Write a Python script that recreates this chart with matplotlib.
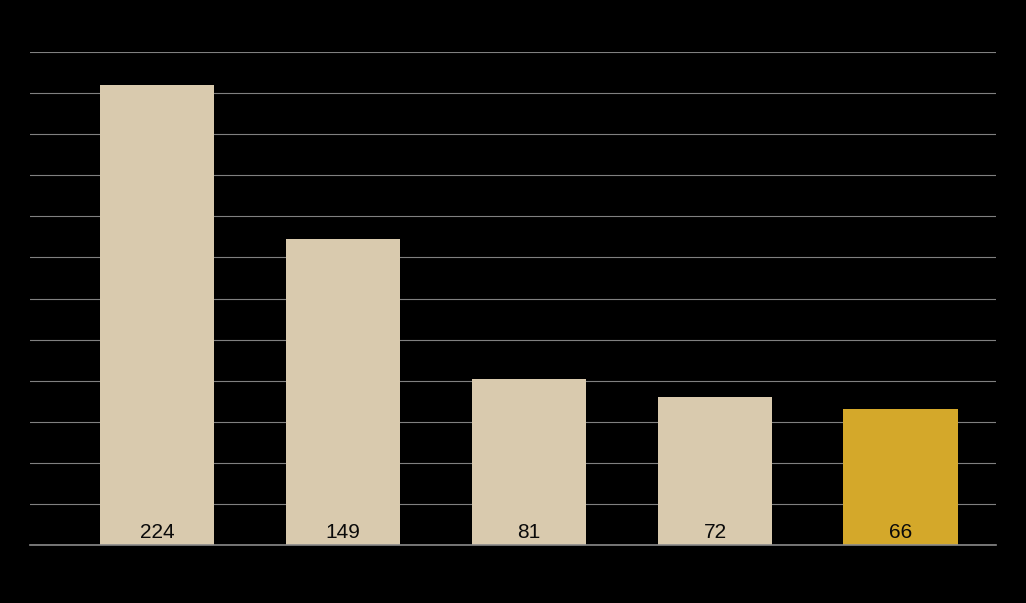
import matplotlib.pyplot as plt

plt.rcParams['font.family'] = ['Liberation Sans', 'DejaVu Sans']

categories = ['A', 'B', 'C', 'D', 'E']
values = [224, 149, 81, 72, 66]
colors = ['#D9CAAE', '#D9CAAE', '#D9CAAE', '#D9CAAE', '#D4A82A']

fig = plt.figure(figsize=(10.26, 6.03), dpi=100, facecolor='black')
ax = fig.add_axes([30 / 1026, 1 - 545 / 603, 966 / 1026, 493 / 603])
ax.set_facecolor('black')

x = range(len(categories))
ax.bar(x, values, width=0.618, color=colors, zorder=2)

for xi, v in zip(x, values):
    ax.text(xi, 1.5, str(v), ha='center', va='bottom', fontsize=15,
            color='#0a0a0a', zorder=3)

ax.set_ylim(0, 240)
ax.set_xlim(-0.683, 4.511)
ax.set_yticks(range(0, 241, 20))
ax.yaxis.grid(True, color='#808080', linewidth=0.8, zorder=1)
ax.tick_params(left=False, bottom=False, labelleft=False, labelbottom=False)
for s in ['top', 'right', 'left']:
    ax.spines[s].set_visible(False)
ax.spines['bottom'].set_color('#8a8a8a')
ax.spines['bottom'].set_linewidth(1.2)
ax.spines['bottom'].set_zorder(4)

fig.savefig('out.png', dpi=100, facecolor='black')
